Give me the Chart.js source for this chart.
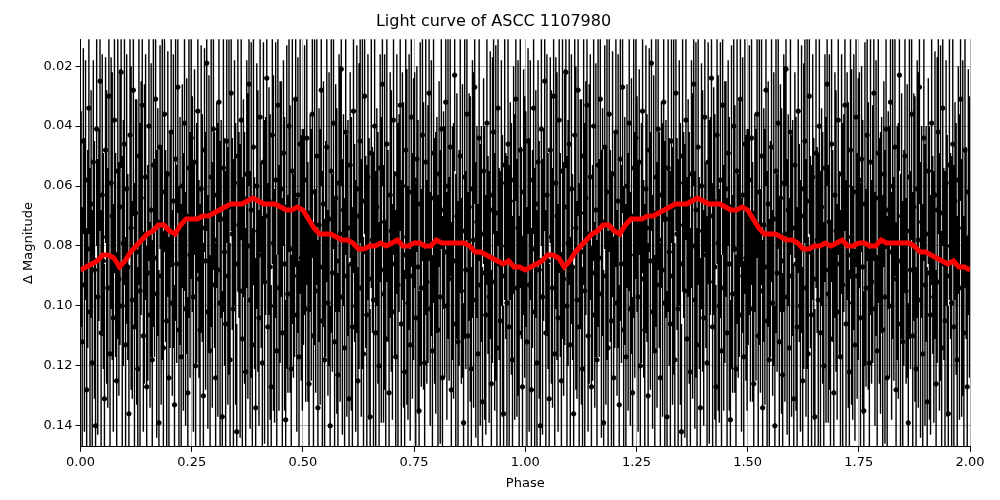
<!DOCTYPE html>
<html><head><meta charset="utf-8">
<script src="https://cdn.jsdelivr.net/npm/chart.js@4"></script>
<style>body{margin:0;background:#fff}#w{width:1000px;height:500px}</style>
</head><body><div id="w"><canvas id="c"></canvas></div>
<script>
const title = "Light curve of ASCC 1107980";
const xTicks = [0,0.25,0.5,0.75,1,1.25,1.5,1.75,2];
const yTicks = [0.02,0.04,0.06,0.08,0.10,0.12,0.14];
// observed magnitudes (one cycle, phase-folded), read approximately
const mags = [
0.071,0.112,0.045,0.093,0.058,0.128,0.081,0.034,0.102,0.066,
0.119,0.052,0.088,0.140,0.041,0.097,0.073,0.025,0.109,0.063,
0.085,0.131,0.048,0.077,0.094,0.030,0.116,0.059,0.070,0.104,
0.038,0.083,0.125,0.055,0.091,0.067,0.022,0.100,0.079,0.046,
0.113,0.061,0.087,0.136,0.043,0.074,0.098,0.028,0.107,0.069,
0.082,0.121,0.050,0.095,0.064,0.033,0.110,0.076,0.057,0.127,
0.089,0.040,0.103,0.068,0.118,0.053,0.084,0.031,0.096,0.072,
0.139,0.047,0.090,0.062,0.114,0.036,0.080,0.105,0.056,0.124,
0.078,0.042,0.099,0.065,0.133,0.051,0.086,0.027,0.108,0.075,
0.117,0.060,0.092,0.039,0.101,0.070,0.129,0.054,0.083,0.044,
0.066,0.097,0.052,0.120,0.079,0.035,0.091,0.108,0.061,0.074,
0.130,0.048,0.085,0.019,0.102,0.069,0.115,0.057,0.093,0.041,
0.078,0.124,0.063,0.088,0.032,0.099,0.071,0.137,0.054,0.082,
0.106,0.045,0.090,0.067,0.118,0.029,0.076,0.101,0.059,0.086,
0.142,0.050,0.073,0.095,0.038,0.111,0.064,0.084,0.122,0.056,
0.080,0.026,0.098,0.068,0.113,0.047,0.089,0.134,0.060,0.075,
0.104,0.037,0.083,0.119,0.052,0.092,0.070,0.024,0.107,0.065,
0.087,0.127,0.043,0.079,0.100,0.058,0.115,0.033,0.094,0.072,
0.061,0.109,0.049,0.086,0.138,0.067,0.096,0.040,0.081,0.121,
0.055,0.090,0.074,0.031,0.103,0.063,0.117,0.046,0.084,0.088,
0.077,0.058,0.101,0.044,0.092,0.126,0.069,0.083,0.036,0.110,
0.062,0.095,0.050,0.134,0.073,0.087,0.028,0.105,0.066,0.118,
0.081,0.047,0.099,0.071,0.140,0.055,0.089,0.039,0.112,0.064,
0.085,0.123,0.059,0.076,0.021,0.097,0.068,0.114,0.042,0.090,
0.074,0.131,0.053,0.086,0.107,0.035,0.079,0.100,0.061,0.125,
0.070,0.045,0.094,0.065,0.116,0.030,0.082,0.103,0.057,0.091,
0.137,0.049,0.078,0.098,0.040,0.109,0.067,0.084,0.120,0.054,
0.088,0.026,0.096,0.072,0.111,0.046,0.080,0.129,0.063,0.075,
0.102,0.038,0.086,0.117,0.056,0.093,0.069,0.033,0.106,0.060,
0.083,0.122,0.048,0.077,0.099,0.062,0.113,0.037,0.090,0.071,
0.058,0.104,0.051,0.087,0.135,0.066,0.094,0.043,0.080,0.119,
0.052,0.092,0.076,0.029,0.101,0.064,0.115,0.049,0.085,0.089,
0.073,0.108,0.056,0.097,0.041,0.124,0.068,0.082,0.032,0.100,
0.060,0.091,0.047,0.128,0.079,0.085,0.023,0.106,0.070,0.112,
0.084,0.050,0.095,0.075,0.139,0.057,0.088,0.036,0.110,0.067,
0.081,0.121,0.061,0.078,0.027,0.098,0.072,0.116,0.044,0.093,
0.076,0.132,0.055,0.089,0.103,0.039,0.083,0.097,0.063,0.126,
0.068,0.042,0.092,0.069,0.114,0.034,0.086,0.105,0.059,0.090,
0.136,0.053,0.080,0.099,0.046,0.107,0.065,0.081,0.118,0.058,
0.087,0.031,0.094,0.074,0.109,0.048,0.079,0.127,0.062,0.077];
const errs = [0.036,0.045,0.031,0.049,0.040,0.054,0.033,0.042,0.048,0.038,
0.051,0.034,0.043,0.056,0.039,0.046,0.032,0.050,0.041,0.047];
// binned mean curve, phase 0..1 in steps of 0.0125
const meanCurve = [0.088,0.087,0.086,0.085,0.083,0.083,0.084,0.087,0.085,0.082,0.080,0.078,0.076,0.075,0.073,0.073,0.075,0.076,0.073,0.071,
0.071,0.071,0.070,0.070,0.069,0.068,0.067,0.066,0.066,0.066,0.065,0.064,0.065,0.066,0.066,0.066,0.067,0.068,0.068,0.067,
0.068,0.071,0.074,0.076,0.076,0.076,0.077,0.078,0.078,0.079,0.081,0.081,0.080,0.080,0.079,0.080,0.079,0.078,0.080,0.080,
0.079,0.079,0.080,0.080,0.078,0.079,0.079,0.079,0.079,0.079,0.080,0.082,0.082,0.083,0.084,0.085,0.086,0.085,0.087,0.087,0.088];

const pts=[], bars=[], mean=[];
for (let k=0;k<2;k++){
  mags.forEach((m,i)=>{const p=k+(i+0.5)/mags.length; pts.push({x:p,y:m}); bars.push({x:p,y:m,e:errs[i%errs.length]});});
  meanCurve.forEach((m,i)=>{ if(k===1&&i===0) return; mean.push({x:k+i/(meanCurve.length-1),y:m});});
}
const errPlugin={id:'err',beforeDatasetsDraw(ch){
  const ctx=ch.ctx,xs=ch.scales.x,ys=ch.scales.y,a=ch.chartArea;
  ctx.save();ctx.beginPath();ctx.rect(a.left,a.top,a.right-a.left,a.bottom-a.top);ctx.clip();
  ctx.strokeStyle='#000';ctx.lineWidth=1.4;ctx.beginPath();
  bars.forEach(b=>{const x=xs.getPixelForValue(b.x);ctx.moveTo(x,ys.getPixelForValue(b.y-b.e));ctx.lineTo(x,ys.getPixelForValue(b.y+b.e));});
  ctx.stroke();ctx.restore();}};
new Chart(document.getElementById('c'),{
  type:'scatter',
  data:{datasets:[
    {data:mean,showLine:true,borderColor:'#ff0000',borderWidth:5,pointRadius:0,order:0},
    {data:pts,backgroundColor:'#000',borderColor:'#000',pointRadius:2.2,order:1}
  ]},
  options:{responsive:true,maintainAspectRatio:false,animation:false,
    layout:{padding:{left:17,right:30,top:0,bottom:5}},
    plugins:{legend:{display:false},tooltip:{enabled:false},
      title:{display:true,text:title,color:'#000',font:{family:'DejaVu Sans',size:16,weight:'normal'},padding:{top:12,bottom:8}}},
    scales:{
      x:{type:'linear',min:0,max:2,afterBuildTicks:s=>{s.ticks=xTicks.map(v=>({value:v}));},
        ticks:{color:'#000',font:{family:'DejaVu Sans',size:13},callback:v=>v.toFixed(2),maxRotation:0},
        grid:{color:'#b0b0b0',tickColor:'#000',tickLength:5},border:{color:'#000'},
        title:{display:true,text:'Phase',color:'#000',font:{family:'DejaVu Sans',size:13},padding:{top:2}}},
      y:{type:'linear',reverse:true,min:0.011,max:0.147,afterBuildTicks:s=>{s.ticks=yTicks.map(v=>({value:v}));},
        ticks:{color:'#000',font:{family:'DejaVu Sans',size:13},callback:v=>v.toFixed(2)},
        grid:{color:'#b0b0b0',tickColor:'#000',tickLength:5},border:{color:'#000'},
        title:{display:true,text:'Δ Magnitude',color:'#000',font:{family:'DejaVu Sans',size:13}}}
    }},
  plugins:[errPlugin]
});
</script></body></html>
